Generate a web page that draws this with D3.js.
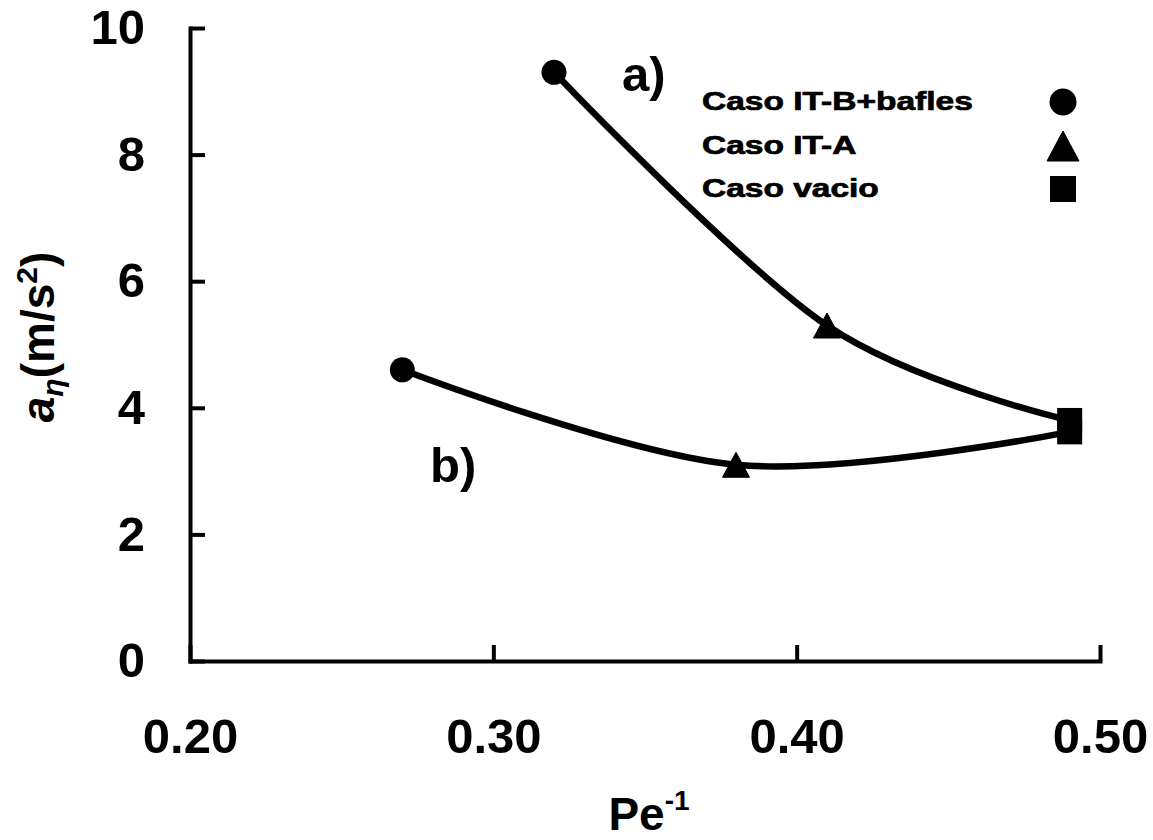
<!DOCTYPE html>
<html>
<head>
<meta charset="utf-8">
<script src="https://cdn.jsdelivr.net/npm/d3@7"></script>
<style>
  html, body { margin: 0; padding: 0; background: #fff; }
  svg { display: block; }
  text { font-family: "Liberation Sans", Arial, sans-serif; font-weight: bold; fill: #000; }
</style>
</head>
<body>
<svg id="chart" width="1153" height="840"></svg>
<script>
// ---- data ----
const xTicks = [0.20, 0.30, 0.40, 0.50];
const yTicks = [0, 2, 4, 6, 8, 10];
const seriesA_x = [0.32, 0.41, 0.49];
const seriesA_y = [9.3, 5.3, 3.8];
const seriesB_x = [0.27, 0.38, 0.49];
const seriesB_y = [4.6, 3.1, 3.62];
const markerTypes = ["circle", "triangle", "square"];
const legendLabels = ["Caso IT-B+bafles", "Caso IT-A", "Caso vacio"];
const curveLabels = ["a)", "b)"];

// ---- layout ----
const svg = d3.select("#chart");
const x = d3.scaleLinear().domain([0.20, 0.50]).range([190, 1100]);
const y = d3.scaleLinear().domain([0, 10]).range([661, 28]);

// axes
const xAxis = d3.axisBottom(x).tickValues(xTicks).tickFormat(d3.format(".2f"))
  .tickSizeInner(-16).tickSizeOuter(0).tickPadding(57);
const yAxis = d3.axisLeft(y).tickValues(yTicks).tickFormat(d3.format("d"))
  .tickSizeInner(-15).tickSizeOuter(0).tickPadding(45);

const gx = svg.append("g").attr("transform", "translate(0,661)").call(xAxis);
const gy = svg.append("g").attr("transform", "translate(190,0)").call(yAxis);
[gx, gy].forEach(g => {
  g.select(".domain").attr("stroke", "#000").attr("stroke-width", 4).attr("stroke-linecap", "square");
  g.selectAll(".tick line").attr("stroke", "#000").attr("stroke-width", 4);
  g.selectAll(".tick text").attr("font-size", 49).attr("font-family", "Liberation Sans, Arial, sans-serif")
    .attr("font-weight", "bold").attr("fill", "#000");
});

// curves
const line = d3.line().x(d => x(d[0])).y(d => y(d[1])).curve(d3.curveCatmullRom.alpha(0));
const ptsA = seriesA_x.map((v, i) => [v, seriesA_y[i]]);
const ptsB = seriesB_x.map((v, i) => [v, seriesB_y[i]]);
[ptsA, ptsB].forEach(pts => {
  svg.append("path").attr("d", line(pts)).attr("fill", "none")
    .attr("stroke", "#000").attr("stroke-width", 6.5);
});

// markers
function marker(g, type, cx, cy, s) {
  if (type === "circle") {
    g.append("circle").attr("cx", cx).attr("cy", cy).attr("r", s / 2).attr("fill", "#000");
  } else if (type === "triangle") {
    const h = s;
    g.append("path").attr("d", `M${cx},${cy - h / 2}L${cx + s / 2 + 1},${cy + h / 2}L${cx - s / 2 - 1},${cy + h / 2}Z`)
      .attr("fill", "#000").attr("stroke", "#000").attr("stroke-width", 1).attr("stroke-linejoin", "round");
  } else {
    g.append("rect").attr("x", cx - s / 2).attr("y", cy - s / 2).attr("width", s).attr("height", s)
      .attr("fill", "#000");
  }
}
const gm = svg.append("g");
[ptsA, ptsB].forEach(pts => {
  pts.forEach((p, i) => marker(gm, markerTypes[i], x(p[0]), y(p[1]), 25));
});

// curve labels
svg.append("text").attr("x", 622).attr("y", 91).attr("font-size", 49).text(curveLabels[0]);
svg.append("text").attr("x", 430).attr("y", 482).attr("font-size", 49).text(curveLabels[1]);

// legend
const legendY = [110, 154, 197];
legendLabels.forEach((lab, i) => {
  svg.append("text").attr("transform", `translate(702,${legendY[i]}) scale(1.34,1)`)
    .attr("font-size", 25).attr("stroke", "#000").attr("stroke-width", 0.7).text(lab);
  marker(svg, markerTypes[i], 1063, legendY[i] - 8, i === 0 ? 27 : (i === 1 ? 30 : 26));
});

// y-axis title
const yt = svg.append("text").attr("transform", "translate(54,337) rotate(-90)")
  .attr("text-anchor", "middle").attr("font-size", 46);
yt.append("tspan").attr("font-style", "italic").text("a");
yt.append("tspan").attr("font-style", "italic").attr("font-size", 30).attr("dy", 9).text("η");
yt.append("tspan").attr("dy", -9).text("(m/s");
yt.append("tspan").attr("font-size", 30).attr("dy", -17).text("2");
yt.append("tspan").attr("dy", 17).text(")");

// x-axis title
const xt = svg.append("text").attr("x", 649).attr("y", 830).attr("text-anchor", "middle").attr("font-size", 46);
xt.append("tspan").text("Pe");
xt.append("tspan").attr("font-size", 28).attr("dy", -20).text("-1");
</script>
</body>
</html>
